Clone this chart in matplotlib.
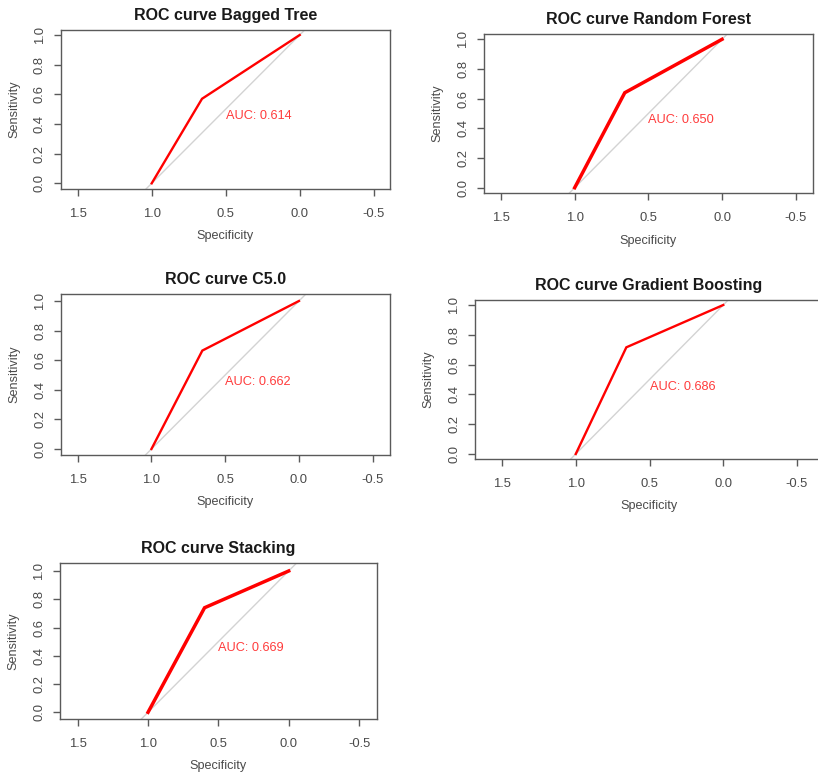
import matplotlib
matplotlib.use("Agg")
import matplotlib.pyplot as plt

plt.rcParams['font.family'] = ['Liberation Sans', 'DejaVu Sans']

# ---- data ----
titles = ["ROC curve Bagged Tree", "ROC curve Random Forest", "ROC curve C5.0",
          "ROC curve Gradient Boosting", "ROC curve Stacking"]
knee_specificity = [0.66, 0.66, 0.655, 0.657, 0.598]
knee_sensitivity = [0.57, 0.64, 0.665, 0.716, 0.74]
auc_values = [0.614, 0.650, 0.662, 0.686, 0.669]
x_ticks = [1.5, 1.0, 0.5, 0.0, -0.5]
y_ticks = [0.0, 0.2, 0.4, 0.6, 0.8, 1.0]

# ---- layout (pixels) ----
W, H = 818, 773
# box: left, top, right, bottom ; x pixel of 1.5 and -0.5 ; y pixel of 1.0 and 0.0
boxes = [
    (60.7, 30.0, 390.0, 189.0, 77.7, 373.7, 35.0, 183.3),
    (484.3, 34.0, 812.7, 193.3, 501.0, 795.7, 39.3, 187.7),
    (61.0, 294.3, 390.0, 455.0, 77.7, 372.7, 301.0, 449.0),
    (475.0, 300.0, 823.0, 459.0, 502.0, 797.0, 305.0, 454.0),
    (60.0, 563.3, 376.7, 719.0, 77.7, 359.0, 571.0, 712.3),
]
line_widths = [1.7, 2.5, 1.7, 1.7, 2.5]

fig = plt.figure(figsize=(W / 100, H / 100), dpi=100)
axis_col = "#5a5a5a"
text_col = "#4a4a4a"

for i in range(5):
    l, t, r, b, p15, pm05, p1, p0 = boxes[i]
    wpx, hpx = r - l, b - t
    ax = fig.add_axes([l / W, 1 - b / H, wpx / W, hpx / H])
    ux = (pm05 - p15) / 2.0
    uy = (p0 - p1)
    ax.set_xlim(1.5 + (p15 - l) / ux, 1.5 - (r - p15) / ux)
    ax.set_ylim(0 - (b - p0) / uy, 1 + (p1 - t) / uy)

    ax.axline((1, 0), (0, 1), color="#d3d3d3", lw=1.0, zorder=1)
    spec = [1.0, knee_specificity[i], 0.0]
    sens = [0.0, knee_sensitivity[i], 1.0]
    ax.plot(spec, sens, color="#ff0000", lw=line_widths[i], zorder=2,
            solid_joinstyle='miter')
    ax.text(0.5, 0.453, f"AUC: {auc_values[i]:.3f}", color="#ff3b3b",
            fontsize=9.2, ha="left", va="center")

    ax.set_xticks(x_ticks)
    ax.set_xticklabels([f"{v:.1f}" for v in x_ticks])
    ax.set_yticks(y_ticks)
    ax.set_yticklabels([f"{v:.1f}" for v in y_ticks])
    ax.tick_params(axis='both', length=5, width=1.0, color=axis_col,
                   labelcolor=text_col, labelsize=9.4)
    ax.tick_params(axis='x', pad=8.4)
    ax.tick_params(axis='y', pad=5.8)
    for lab in ax.get_yticklabels():
        lab.set_rotation(90)
        lab.set_va('center')
        lab.set_ha('right')
    for s in ax.spines.values():
        s.set_color(axis_col)
        s.set_linewidth(1.0)

    ax.set_title(titles[i], fontsize=11.5, fontweight='bold', color="#1a1a1a",
                 y=1 + 14.5 / hpx, va='center', pad=0)
    ax.set_xlabel("Specificity", fontsize=9.1, color=text_col)
    ax.xaxis.set_label_coords(0.5, -47.5 / hpx)
    ax.xaxis.label.set_va('center')
    ax.set_ylabel("Sensitivity", fontsize=9.1, color=text_col)
    ax.yaxis.set_label_coords(-46.5 / wpx, 0.5)
    ax.yaxis.label.set_va('center')

fig.savefig("out.png", dpi=100, facecolor="white")
